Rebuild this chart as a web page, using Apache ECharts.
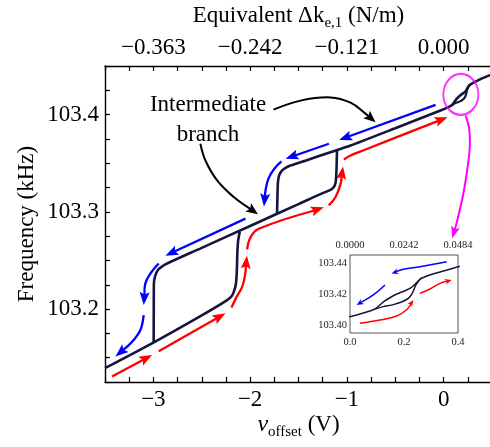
<!DOCTYPE html>
<html><head><meta charset="utf-8">
<script src="https://cdn.jsdelivr.net/npm/echarts@6/dist/echarts.min.js"></script>
<style>html,body{margin:0;padding:0;background:#fff}#c{width:490px;height:447px}</style>
</head><body><div id="c"></div>
<script>
// ================= DATA (v_offset in V, frequency in kHz) =================
const K_PER_V = 0.121; // top axis: equivalent delta k (N/m) per volt

// black response branches
const branchLower = [[-3.5,103.1392],[-3.0,103.1655],[-2.5,103.1935],[-2.2375,103.2092],[-2.19,103.2135],[-2.169,103.2177],[-2.148,103.2250],[-2.138,103.2380],[-2.132,103.2580],[-2.124,103.2700],[-2.107,103.2795]];
const branchMiddle = [[-2.997,103.1655],[-2.996,103.2000],[-2.995,103.2250],[-2.983,103.2335],[-2.955,103.2400],[-2.90,103.2445],[-2.858,103.2469],[-2.5,103.2630],[-2.0,103.2855],[-1.5,103.3080],[-1.25,103.3193],[-1.169,103.3225],[-1.135,103.3255],[-1.117,103.3300],[-1.110,103.3374],[-1.106,103.3477],[-1.102,103.3636]];
const branchUpper = [[-1.722,103.2985],[-1.719,103.3100],[-1.716,103.3220],[-1.712,103.3310],[-1.70,103.3375],[-1.669,103.3426],[-1.62,103.3460],[-1.583,103.3477],[-0.962,103.3682],[-0.5,103.3860],[0.0,103.4055],[0.037,103.4072],[0.074,103.4091],[0.0926,103.4104],[0.111,103.4130],[0.130,103.4157],[0.148,103.4176],[0.173,103.4200],[0.204,103.4221],[0.228,103.4243],[0.247,103.4273],[0.262,103.4298],[0.296,103.4322],[0.346,103.4347],[0.401,103.4375],[0.5,103.4415]];
const loopLower = [[0.0926,103.4104],[0.123,103.4119],[0.160,103.4132],[0.191,103.4149],[0.216,103.4172],[0.232,103.4209],[0.244,103.4258],[0.257,103.4290],[0.265,103.4303]];

// sweep-direction arrows (main plot)
const blueDown1 = [[-0.083,103.4100],[-1.080,103.3740]];
const blueDown2 = [[-1.186,103.3700],[-1.634,103.3546]];
const blueDown3 = [[-1.676,103.3518],[-1.748,103.3446],[-1.810,103.3344],[-1.841,103.3220],[-1.857,103.3056]];
const blueDown4 = [[-2.048,103.2930],[-2.876,103.2549]];
const blueDown5 = [[-2.945,103.2469],[-3.031,103.2366],[-3.083,103.2264],[-3.100,103.2041]];
const blueDown6 = [[-3.100,103.1938],[-3.134,103.1785],[-3.204,103.1682],[-3.272,103.1613],[-3.392,103.1513]];
const redUp1 = [[-3.427,103.1306],[-3.013,103.1528]];
const redUp2 = [[-2.945,103.1565],[-2.255,103.1956]];
const redUp3 = [[-2.193,103.2015],[-2.141,103.2123],[-2.082,103.2229],[-2.053,103.2349],[-2.033,103.2549]];
const redUp4 = [[-2.031,103.2615],[-1.996,103.2738],[-1.911,103.2826],[-1.238,103.3046]];
const redUp5 = [[-1.187,103.3067],[-1.117,103.3152],[-1.065,103.3289],[-1.040,103.3467]];
const redUp6 = [[-1.031,103.3538],[-0.962,103.3580],[-0.807,103.3641],[0.041,103.3974]];

// annotation arrows
const noteArrowA = [[-1.7586,103.4051],[-1.479,103.4144],[-1.169,103.4177],[-0.962,103.4123],[-0.807,103.4010],[-0.703,103.3921]];
const noteArrowB = [[-2.514,103.3700],[-2.462,103.3528],[-2.341,103.3323],[-2.169,103.3152],[-1.919,103.2974]];
const zoomArrow = [[0.2276,103.3990],[0.2617,103.3870],[0.2720,103.3720],[0.2617,103.3562],[0.2100,103.3220],[0.1417,103.2913],[0.0900,103.2728]];
const zoomCircleCenter = [[0.178,103.4208]];

// inset arrows
const insetBlue1 = [[0.358,103.4407],[0.259,103.4375],[0.1975,103.4358],[0.154,103.4332]];
const insetBlue2 = [[0.1296,103.4258],[0.0864,103.4194],[0.0247,103.4130]];
const insetRed1 = [[0.037,103.4012],[0.111,103.4033],[0.173,103.4059],[0.212,103.4102],[0.2346,103.4162]];
const insetRed2 = [[0.259,103.4204],[0.296,103.4232],[0.333,103.4268],[0.3765,103.4290]];

// ================= STYLE / LAYOUT =================
const SERIF = "'Liberation Serif','Times New Roman',serif";
const BLACK = '#15153d', BLUE = '#0000ff', RED = '#ff0000', MAG = '#ff00ff';

const mainArrows = [
  {pts: blueDown1, color: BLUE, w: 2.3, hl: 13, hw: 5, sm: 0},
  {pts: blueDown2, color: BLUE, w: 2.3, hl: 13, hw: 5, sm: 0},
  {pts: blueDown3, color: BLUE, w: 2.3, hl: 13, hw: 5, sm: 0.4},
  {pts: blueDown4, color: BLUE, w: 2.3, hl: 13, hw: 5, sm: 0},
  {pts: blueDown5, color: BLUE, w: 2.3, hl: 13, hw: 5, sm: 0.4},
  {pts: blueDown6, color: BLUE, w: 2.3, hl: 13, hw: 5, sm: 0.4},
  {pts: redUp1, color: RED, w: 2.3, hl: 13, hw: 5, sm: 0},
  {pts: redUp2, color: RED, w: 2.3, hl: 13, hw: 5, sm: 0},
  {pts: redUp3, color: RED, w: 2.3, hl: 13, hw: 5, sm: 0.4},
  {pts: redUp4, color: RED, w: 2.3, hl: 13, hw: 5, sm: 0.4},
  {pts: redUp5, color: RED, w: 2.3, hl: 13, hw: 5, sm: 0.4},
  {pts: redUp6, color: RED, w: 2.3, hl: 13, hw: 5, sm: 0.4},
  {pts: noteArrowA, color: '#000', w: 2, hl: 12, hw: 5, sm: 0.4},
  {pts: noteArrowB, color: '#000', w: 2, hl: 12, hw: 5, sm: 0.4},
  {pts: zoomArrow, color: MAG, w: 2, hl: 12, hw: 4.5, sm: 0.4}
];
const insetArrows = [
  {pts: insetBlue1, color: BLUE, w: 1.5, hl: 7, hw: 3, sm: 0.4},
  {pts: insetBlue2, color: BLUE, w: 1.5, hl: 7, hw: 3, sm: 0.4},
  {pts: insetRed1, color: RED, w: 1.5, hl: 7, hw: 3, sm: 0.4},
  {pts: insetRed2, color: RED, w: 1.5, hl: 7, hw: 3, sm: 0.4}
];

function arrowRenderer(list) {
  return function (params, api) {
    const a = list[params.dataIndex];
    const pts = a.pts.map(p => api.coord(p));
    const n = pts.length;
    const tip = pts[n - 1], prev = pts[n - 2];
    const dx = tip[0] - prev[0], dy = tip[1] - prev[1];
    const len = Math.hypot(dx, dy) || 1;
    const ux = dx / len, uy = dy / len, px = -uy, py = ux;
    const bx = tip[0] - ux * a.hl, by = tip[1] - uy * a.hl;
    const shaft = pts.slice(0, n - 1).concat([[bx + ux * 3, by + uy * 3]]);
    return {
      type: 'group',
      children: [
        {type: 'polyline', shape: {points: shaft, smooth: a.sm}, style: {stroke: a.color, lineWidth: a.w, fill: null}},
        {type: 'polygon', shape: {points: [tip, [bx + px * a.hw, by + py * a.hw], [bx + ux * 2.5, by + uy * 2.5], [bx - px * a.hw, by - py * a.hw]]},
         style: {fill: a.color, stroke: null}}
      ]
    };
  };
}

function near(v, step) { return Math.abs(v / step - Math.round(v / step)) < 1e-6; }
function minus(s) { return s.replace('-', '\u2212'); }

const tickLabel = {fontFamily: SERIF, fontSize: 23, color: '#000'};
const axisLineStyle = {show: true, onZero: false, lineStyle: {color: '#000', width: 1.4}};
const tickStyle = {show: true, inside: true, length: 5, lineStyle: {color: '#000', width: 1.2}};

const option = {
  animation: false,
  backgroundColor: '#fff',
  grid: [
    {left: 105, top: 66, width: 387, height: 316, outerBoundsMode: 'none', containLabel: false},
    {left: 350, top: 255, width: 108, height: 78, show: true, backgroundColor: '#fff', borderColor: '#555', borderWidth: 1, outerBoundsMode: 'none', containLabel: false, z: 5}
  ],
  xAxis: [
    {type: 'value', gridIndex: 0, position: 'bottom', min: -3.5, max: 0.5, interval: 0.25,
     axisLine: axisLineStyle, axisTick: tickStyle, splitLine: {show: false},
     axisLabel: Object.assign({margin: 6, formatter: v => near(v, 1) ? minus(String(Math.round(v))) : ''}, tickLabel),
     name: '{v|v}{s|offset}{a| (V)}', nameLocation: 'middle', nameGap: 28, nameMoveOverlap: false,
     nameTextStyle: {rich: {
       v: {fontFamily: SERIF, fontSize: 24, fontStyle: 'italic', lineHeight: 30, color: '#000'},
       s: {fontFamily: SERIF, fontSize: 15, lineHeight: 15, verticalAlign: 'bottom', color: '#000'},
       a: {fontFamily: SERIF, fontSize: 23, lineHeight: 30, color: '#000'}}}},
    {type: 'value', gridIndex: 0, position: 'top', min: -3.5, max: 0.5, interval: 0.25,
     axisLine: axisLineStyle, axisTick: tickStyle, splitLine: {show: false},
     axisLabel: Object.assign({margin: 7, formatter: v => near(v, 1) ? minus((Math.round(v) * K_PER_V).toFixed(3)) : ''}, tickLabel),
     name: '{a|Equivalent \u0394k}{s|e,1}{a| (N/m)}', nameLocation: 'middle', nameGap: 35, nameMoveOverlap: false,
     nameTextStyle: {rich: {
       s: {fontFamily: SERIF, fontSize: 15, lineHeight: 15, verticalAlign: 'bottom', color: '#000'},
       a: {fontFamily: SERIF, fontSize: 23, lineHeight: 30, color: '#000'}}}},
    {type: 'value', gridIndex: 1, position: 'bottom', min: 0, max: 0.4, interval: 0.2,
     axisLine: {show: false, onZero: false}, axisTick: {show: false}, splitLine: {show: false},
     axisLabel: {margin: 4, fontFamily: SERIF, fontSize: 10.5, color: '#222', formatter: v => v.toFixed(1)}},
    {type: 'value', gridIndex: 1, position: 'top', min: 0, max: 0.4, interval: 0.2,
     axisLine: {show: false, onZero: false}, axisTick: {show: false}, splitLine: {show: false},
     axisLabel: {margin: 4, fontFamily: SERIF, fontSize: 10.5, color: '#222', formatter: v => (v * K_PER_V).toFixed(4)}}
  ],
  yAxis: [
    {type: 'value', gridIndex: 0, min: 103.125, max: 103.45, interval: 0.025,
     axisLine: axisLineStyle, axisTick: tickStyle, splitLine: {show: false},
     axisLabel: Object.assign({margin: 6, formatter: v => near(v, 0.1) ? v.toFixed(1) : ''}, tickLabel),
     name: 'Frequency (kHz)', nameLocation: 'middle', nameGap: 67, nameMoveOverlap: false,
     nameTextStyle: {fontFamily: SERIF, fontSize: 23, color: '#000'}},
    {type: 'value', gridIndex: 1, min: 103.395, max: 103.445, interval: 0.005,
     axisLine: {show: false, onZero: false}, axisTick: {show: false}, splitLine: {show: false},
     axisLabel: {margin: 3, fontFamily: SERIF, fontSize: 10.5, color: '#222', formatter: v => near(v, 0.02) ? v.toFixed(2) : ''}}
  ],
  graphic: [
    {type: 'text', x: 208, y: 120, z: 10,
     style: {text: 'Intermediate\nbranch', fontFamily: SERIF, fontSize: 23, lineHeight: 30, fill: '#000', align: 'center', verticalAlign: 'middle'}}
  ],
  series: [
    {type: 'line', xAxisIndex: 0, yAxisIndex: 0, data: branchLower, showSymbol: false, smooth: 0.3, silent: true, lineStyle: {color: BLACK, width: 2.6}},
    {type: 'line', xAxisIndex: 0, yAxisIndex: 0, data: branchMiddle, showSymbol: false, smooth: 0.3, silent: true, lineStyle: {color: BLACK, width: 2.6}},
    {type: 'line', xAxisIndex: 0, yAxisIndex: 0, data: branchUpper, showSymbol: false, smooth: 0.15, silent: true, lineStyle: {color: BLACK, width: 2.6}},
    {type: 'line', xAxisIndex: 0, yAxisIndex: 0, data: loopLower, showSymbol: false, smooth: 0.15, silent: true, lineStyle: {color: BLACK, width: 2.2}},
    {type: 'custom', xAxisIndex: 0, yAxisIndex: 0, silent: true, z: 3,
     data: mainArrows.map((_, i) => [i, 103.3]), renderItem: arrowRenderer(mainArrows)},
    {type: 'scatter', xAxisIndex: 0, yAxisIndex: 0, silent: true, z: 4, data: zoomCircleCenter,
     symbol: 'circle', symbolSize: [35, 41], itemStyle: {color: 'rgba(0,0,0,0)', borderColor: MAG, borderWidth: 2}},
    // inset
    {type: 'line', xAxisIndex: 2, yAxisIndex: 1, data: branchUpper, showSymbol: false, smooth: 0.15, silent: true, z: 6, lineStyle: {color: BLACK, width: 1.5}},
    {type: 'line', xAxisIndex: 2, yAxisIndex: 1, data: loopLower, showSymbol: false, smooth: 0.15, silent: true, z: 6, lineStyle: {color: BLACK, width: 1.5}},
    {type: 'custom', xAxisIndex: 2, yAxisIndex: 1, silent: true, z: 7,
     data: insetArrows.map((_, i) => [0.2, 103.42]), renderItem: arrowRenderer(insetArrows)}
  ]
};

const chart = echarts.init(document.getElementById('c'));
chart.setOption(option);
</script>
</body></html>
